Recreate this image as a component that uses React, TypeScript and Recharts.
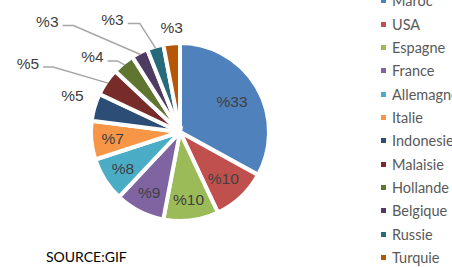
import { PieChart, Pie, Cell } from 'recharts';

const countries = [
  'Maroc',
  'USA',
  'Espagne',
  'France',
  'Allemagne',
  'Italie',
  'Indonesie',
  'Malaisie',
  'Hollande',
  'Belgique',
  'Russie',
  'Turquie',
];
const shares = [33, 10, 10, 9, 8, 7, 5, 5, 4, 3, 3, 3];
const colors = [
  '#4F81BD',
  '#C0504D',
  '#9BBB59',
  '#8064A2',
  '#4BACC6',
  '#F79646',
  '#2C4D75',
  '#772C2A',
  '#5F7530',
  '#4D3B62',
  '#276A7C',
  '#B65708',
];

const data = countries.map((name, i) => ({ name, value: shares[i] }));

const RADIAN = Math.PI / 180;
const LABEL_COLOR = '#404040';
const LINE_COLOR = '#A6A6A6';

// inside labels: radius factor; outside labels: offset from slice edge, optional leader line
type LabelLayout =
  | { kind: 'in'; r: number }
  | { kind: 'out'; dx: number; dy: number }
  | { kind: 'line'; dx: number; dy: number; len: number };

const labelLayout: LabelLayout[] = [
  { kind: 'in', r: 0.68 },
  { kind: 'in', r: 0.71 },
  { kind: 'in', r: 0.77 },
  { kind: 'in', r: 0.76 },
  { kind: 'in', r: 0.76 },
  { kind: 'in', r: 0.76 },
  { kind: 'out', dx: -22, dy: -12 },
  { kind: 'line', dx: -55, dy: -16, len: 10 },
  { kind: 'line', dx: -7, dy: -4, len: 10 },
  { kind: 'line', dx: -67, dy: -29, len: 11 },
  { kind: 'line', dx: -16, dy: -25, len: 12 },
  { kind: 'out', dx: 0, dy: -16 },
];

const textStyle = {
  fontFamily: '"Liberation Sans", Arial, sans-serif',
  fontSize: 15.5,
  fill: LABEL_COLOR,
};

function renderLabel(props: any) {
  const { cx, cy, midAngle, outerRadius, index, value } = props;
  const layout = labelLayout[index];
  const cos = Math.cos(-midAngle * RADIAN);
  const sin = Math.sin(-midAngle * RADIAN);
  const text = `%${value}`;

  if (layout.kind === 'in') {
    const r = outerRadius * layout.r;
    return (
      <text x={cx + r * cos} y={cy + r * sin} textAnchor="middle" dominantBaseline="central" style={textStyle}>
        {text}
      </text>
    );
  }

  if (layout.kind === 'out') {
    const ex = cx + outerRadius * cos;
    const ey = cy + outerRadius * sin;
    return (
      <text x={ex + layout.dx} y={ey + layout.dy} textAnchor="middle" dominantBaseline="central" style={textStyle}>
        {text}
      </text>
    );
  }

  const er = outerRadius - 2;
  const ex = cx + er * cos;
  const ey = cy + er * sin;
  const bx = ex + layout.dx;
  const by = ey + layout.dy;
  const lx = bx - layout.len;
  return (
    <g>
      <polyline
        points={`${ex},${ey} ${bx},${by} ${lx},${by}`}
        fill="none"
        stroke={LINE_COLOR}
        strokeWidth={1.5}
      />
      <text x={lx - 4} y={by - 4} textAnchor="end" dominantBaseline="central" style={textStyle}>
        {text}
      </text>
    </g>
  );
}

const ROW_H = 23.33;

function LegendList() {
  return (
    <div style={{ position: 'absolute', left: 381, top: -10.7 }}>
      {countries.map((name, i) => (
        <div
          key={name}
          style={{
            height: ROW_H,
            display: 'flex',
            alignItems: 'center',
            whiteSpace: 'nowrap',
            fontFamily: 'Lato, "Open Sans", sans-serif',
            fontSize: 14.5,
            color: '#595959',
          }}
        >
          <span
            style={{
              display: 'inline-block',
              width: 5,
              height: 5,
              background: colors[i],
              marginRight: 6,
            }}
          />
          {name}
        </div>
      ))}
    </div>
  );
}

export default function App() {
  return (
    <div
      style={{
        position: 'absolute',
        left: 0,
        top: 0,
        width: 452,
        height: 267,
        overflow: 'hidden',
        background: '#fff',
      }}
    >
      <PieChart width={452} height={267} margin={{ top: 0, right: 0, bottom: 0, left: 0 }}>
        <Pie
          data={data}
          dataKey="value"
          nameKey="name"
          cx={180}
          cy={132}
          outerRadius={89}
          startAngle={90}
          endAngle={-270}
          stroke="#fff"
          strokeWidth={4}
          label={renderLabel}
          labelLine={false}
          isAnimationActive={false}
        >
          {data.map((_, i) => (
            <Cell key={i} fill={colors[i]} />
          ))}
        </Pie>
      </PieChart>
      <LegendList />
      <div
        style={{
          position: 'absolute',
          left: 46,
          top: 248,
          fontFamily: 'Lato, "Open Sans", sans-serif',
          fontSize: 14,
          color: '#000',
          whiteSpace: 'nowrap',
        }}
      >
        SOURCE:GIF
      </div>
    </div>
  );
}
